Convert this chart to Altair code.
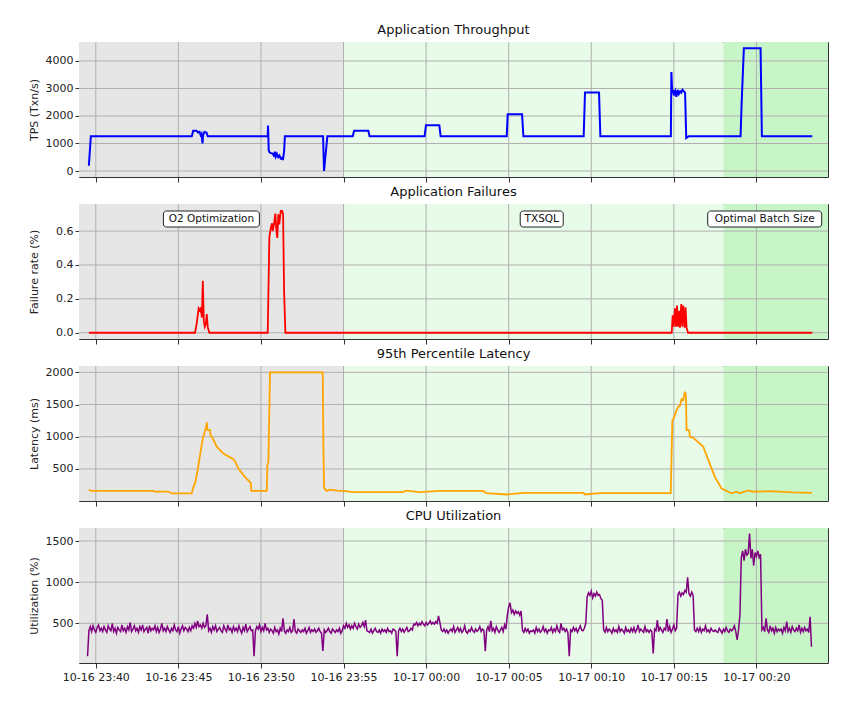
import altair as alt
import pandas as pd

# ---------------- data (minutes relative to 10-16 23:40) ----------------
tps_min = [-0.42, -0.30, 5.81, 5.90, 6.10, 6.20, 6.28, 6.35, 6.40, 6.46, 6.50, 6.58, 6.70, 6.78,
           10.41, 10.43, 10.47, 10.52, 10.60, 10.70, 10.78, 10.85, 10.90, 10.97, 11.05, 11.12, 11.20,
           11.28, 11.33, 11.40, 11.45, 13.76, 13.82, 14.02, 15.56, 15.64, 16.50, 16.58, 19.91, 19.99,
           20.80, 20.88, 24.88, 24.94, 25.81, 25.89, 29.54, 29.62, 30.47, 30.55, 34.82, 34.85, 34.90,
           34.95, 35.00, 35.08, 35.15, 35.22, 35.30, 35.38, 35.45, 35.52, 35.60, 35.68, 35.75, 35.82,
           35.90, 39.04, 39.10, 39.24, 40.25, 40.33, 43.38]
tps_val = [190, 1260, 1260, 1460, 1460, 1400, 1420, 1300, 1350, 1000, 1300, 1420, 1400, 1260,
           1260, 1650, 750, 680, 650, 640, 560, 700, 520, 620, 500, 560, 450,
           480, 400, 700, 1260, 1260, 0, 1260, 1260, 1460, 1460, 1260, 1260, 1660,
           1660, 1260, 1260, 2060, 2060, 1260, 1260, 2850, 2850, 1260, 1260, 3600, 2850,
           2950, 2750, 2900, 2700, 2950, 2800, 2900, 2850, 2950, 2900, 2850, 1200, 1230,
           1260, 1260, 2400, 4460, 4460, 1260, 1260]

fail_min = [-0.42, 6.01, 6.11, 6.23, 6.31, 6.37, 6.42, 6.48, 6.54, 6.60, 6.66, 6.72, 6.78, 6.88,
            10.41, 10.51, 10.59, 10.67, 10.71, 10.79, 10.87, 10.93, 10.99, 11.05, 11.11, 11.20,
            11.28, 11.34, 11.40, 11.48, 34.87, 34.93, 34.99, 35.07, 35.13, 35.19, 35.25, 35.31,
            35.37, 35.45, 35.51, 35.57, 35.65, 35.71, 35.77, 35.86, 43.38]
fail_val = [0, 0, 0.055, 0.144, 0.13, 0.15, 0.09, 0.307, 0.07, 0.035, 0.05, 0.11, 0.03, 0,
            0, 0.566, 0.616, 0.646, 0.60, 0.64, 0.704, 0.61, 0.56, 0.70, 0.64, 0.72,
            0.72, 0.70, 0.25, 0, 0, 0.103, 0.035, 0.144, 0.035, 0.16, 0.035, 0.13,
            0.03, 0.17, 0.035, 0.16, 0.03, 0.15, 0.03, 0, 0]

lat_min = [-0.42, -0.30, 3.50, 3.55, 4.40, 4.60, 5.81, 5.91, 6.01, 6.15, 6.31, 6.48, 6.60, 6.68,
           6.72, 6.76, 6.92, 6.96, 7.06, 7.32, 7.72, 8.33, 8.43, 8.63, 9.03, 9.38, 9.42, 10.35,
           10.39, 10.45, 10.55, 13.74, 13.78, 13.82, 13.98, 14.20, 14.60, 15.00, 15.60, 18.60,
           18.80, 19.63, 20.84, 23.45, 23.66, 24.88, 25.89, 29.52, 29.62, 30.52, 34.81, 34.91,
           35.01, 35.13, 35.27, 35.37, 35.47, 35.57, 35.67, 35.73, 35.77, 35.93, 35.97, 36.17,
           36.68, 36.78, 37.48, 37.89, 38.49, 38.79, 38.99, 39.29, 39.49, 39.80, 40.80, 42.21, 43.36]
lat_val = [180, 160, 160, 150, 150, 120, 120, 223, 275, 457, 715, 974, 1078, 1155,
           1223, 1103, 1103, 1010, 990, 845, 741, 653, 622, 508, 378, 285, 160, 160,
           560, 612, 2000, 2000, 870, 208, 160, 180, 165, 160, 140, 140,
           165, 140, 160, 160, 124, 104, 130, 130, 104, 124, 124, 1249,
           1300, 1389, 1467, 1480, 1585, 1570, 1700, 1647, 1103, 1103, 1000, 984,
           870, 845, 378, 197, 121, 147, 121, 147, 168, 147, 157, 137, 130]

# CPU sampled every 5 s from 23:39:30 (one row per minute)
cpu_start_min = -0.5
cpu_step_sec = 5
cpu_val = [
    100, 410, 460, 400, 470, 420, 390, 450, 480, 410, 440, 400,
    460, 420, 390, 470, 430, 410, 500, 400, 440, 380, 450, 420,
    400, 480, 410, 440, 390, 460, 420, 510, 400, 430, 470, 410,
    440, 390, 460, 420, 480, 400, 430, 450, 380, 470, 410, 440,
    420, 470, 400, 450, 390, 430, 500, 410, 440, 400, 460, 420,
    390, 440, 410, 480, 420, 400, 460, 380, 430, 470, 410, 450,
    430, 400, 450, 410, 470, 440, 500, 450, 530, 460, 480, 440,
    500, 450, 470, 610, 410, 440, 390, 460, 420, 470, 400, 430,
    450, 410, 390, 470, 430, 400, 480, 420, 440, 390, 460, 410,
    440, 400, 470, 420, 380, 450, 410, 490, 400, 430, 460, 410,
    420, 100, 410, 460, 430, 480, 400, 450, 410, 500, 420, 440,
    390, 430, 410, 380, 450, 400, 420, 370, 440, 400, 560, 410,
    380, 420, 400, 450, 390, 410, 550, 400, 380, 430, 410, 390,
    420, 400, 440, 380, 410, 450, 390, 420, 400, 430, 390, 410,
    440, 400, 380, 165, 420, 390, 410, 440, 400, 380, 430, 410,
    390, 420, 400, 440, 380, 410, 470, 440, 500, 450, 480, 430,
    470, 440, 500, 460, 430, 490, 450, 470, 510, 460, 540, 410,
    400, 390, 430, 380, 410, 440, 400, 390, 420, 380, 430, 400,
    420, 390, 440, 400, 410, 380, 430, 420, 400, 100, 410, 440,
    400, 430, 390, 420, 450, 400, 410, 440, 420, 490, 480, 510,
    470, 500, 480, 520, 490, 470, 510, 480, 500, 530, 490, 510,
    490, 520, 500, 590, 510, 420, 400, 430, 390, 420, 380, 410,
    430, 400, 460, 390, 420, 450, 400, 440, 390, 410, 470, 400,
    380, 420, 400, 450, 410, 390, 430, 400, 420, 460, 400, 430,
    410, 160, 420, 460, 400, 530, 410, 440, 390, 460, 420, 390,
    420, 450, 400, 480, 430, 600, 700, 750, 630, 660, 610, 650,
    620, 640, 600, 650, 420, 390, 440, 400, 430, 380, 410, 400,
    420, 380, 450, 400, 430, 390, 410, 460, 400, 430, 380, 420,
    410, 450, 390, 430, 400, 470, 410, 390, 500, 420, 440, 400,
    430, 390, 100, 420, 400, 450, 410, 440, 390, 430, 470, 420,
    410, 440, 500, 820, 870, 840, 890, 810, 860, 830, 880, 840,
    850, 800, 780, 420, 390, 450, 400, 430, 410, 380, 440, 400,
    420, 390, 460, 400, 430, 410, 380, 450, 400, 420, 390, 440,
    400, 450, 390, 420, 480, 400, 430, 410, 390, 460, 400, 420,
    390, 420, 400, 135, 430, 410, 540, 400, 450, 420, 390, 440,
    420, 550, 400, 460, 390, 430, 480, 410, 440, 850, 880, 830,
    870, 850, 900, 880, 1060, 860, 830, 880, 840, 420, 400, 440,
    400, 450, 390, 430, 410, 470, 400, 420, 390, 440, 410, 400,
    420, 400, 390, 440, 410, 380, 430, 400, 450, 410, 390, 430,
    410, 430, 470, 400, 300, 420, 600, 1300, 1380, 1260, 1400, 1330,
    1350, 1590, 1290, 1400, 1200, 1360, 1310, 1380, 1300, 1340, 420, 450,
    400, 560, 420, 390, 470, 410, 440, 380, 450, 400, 430, 410,
    430, 380, 450, 410, 520, 400, 440, 390, 460, 420, 400, 440,
    410, 480, 390, 440, 400, 450, 410, 430, 390, 580, 215,
]

tick_times = ["2023-10-16 23:40", "2023-10-16 23:45", "2023-10-16 23:50", "2023-10-16 23:55",
              "2023-10-17 00:00", "2023-10-17 00:05", "2023-10-17 00:10", "2023-10-17 00:15",
              "2023-10-17 00:20"]
x_domain = ["2023-10-16 23:38:59", "2023-10-17 00:24:20"]

phase_start = ["2023-10-16 23:38:59", "2023-10-16 23:55:00", "2023-10-17 00:18:00"]
phase_end = ["2023-10-16 23:55:00", "2023-10-17 00:18:00", "2023-10-17 00:24:20"]
phase_fill = ["#e6e6e6", "#e8fae8", "#c8f5c8"]

notes_text = ["O2 Optimization", "TXSQL", "Optimal Batch Size"]
notes_time = ["2023-10-16 23:47:00", "2023-10-17 00:07:00", "2023-10-17 00:20:30"]
notes_width = [96, 43, 114]

# ---------------- helpers ----------------
BASE = pd.Timestamp("2023-10-16 23:40:00")


def times_from_minutes(mins):
    return [BASE + pd.Timedelta(minutes=m) for m in mins]


def dt(s):
    t = pd.Timestamp(s)
    return alt.DateTime(year=t.year, month=t.month, date=t.day,
                        hours=t.hour, minutes=t.minute, seconds=t.second)


assert len(tps_min) == len(tps_val)
assert len(fail_min) == len(fail_val)
assert len(lat_min) == len(lat_val)

cpu_times = [BASE + pd.Timedelta(minutes=cpu_start_min) + pd.Timedelta(seconds=cpu_step_sec * i)
             for i in range(len(cpu_val))]

W, H = 749, 135
FONT = "DejaVu Sans"

xscale = alt.Scale(domain=[dt(x_domain[0]), dt(x_domain[1])])
tick_vals = [dt(s) for s in tick_times]

shade_df = pd.DataFrame({"start": pd.to_datetime(phase_start), "end": pd.to_datetime(phase_end),
                         "fill": phase_fill})
xgrid_df = pd.DataFrame({"t": pd.to_datetime(tick_times)})


def panel(title, times, values, color, yticks, ydomain, ytitle, yfmt, bottom=False, notes=False, sw=1.8):
    if bottom:
        xaxis = alt.Axis(values=tick_vals, format="%m-%d %H:%M", title=None, labelFontSize=11,
                         labelPadding=3, tickSize=5, grid=False, labelOverlap=False)
    else:
        xaxis = alt.Axis(values=tick_vals, labels=False, title=None, tickSize=5, grid=False)
    X = alt.X("t:T", scale=xscale, axis=xaxis)
    Y = alt.Y("v:Q", scale=alt.Scale(domain=ydomain, nice=False, zero=False),
              axis=alt.Axis(values=yticks, format=yfmt, title=ytitle, minExtent=36, maxExtent=36,
                            titlePadding=4, grid=False, tickSize=4))

    shade = alt.Chart(shade_df).mark_rect().encode(
        x=alt.X("start:T", scale=xscale, axis=xaxis),
        x2="end:T",
        fill=alt.Fill("fill:N", scale=None),
    )
    xg = alt.Chart(xgrid_df).mark_rule(color="#b0b0b0", strokeWidth=1).encode(x=X)
    yg = alt.Chart(pd.DataFrame({"v": yticks})).mark_rule(color="#b0b0b0", strokeWidth=1).encode(y=Y)
    df = pd.DataFrame({"t": times, "v": values})
    line = alt.Chart(df).mark_line(color=color, strokeWidth=sw, clip=True).encode(x=X, y=Y)
    layers = [shade, xg, yg, line]
    if notes:
        for txt, tm, w in zip(notes_text, notes_time, notes_width):
            ndf = pd.DataFrame({"t": [pd.Timestamp(tm)], "label": [txt]})
            box = alt.Chart(ndf).mark_rect(width=w, height=16, cornerRadius=3, fill="white",
                                           stroke="#222", strokeWidth=1).encode(
                x=alt.X("t:T", scale=xscale, axis=xaxis), y=alt.value(15))
            lab = alt.Chart(ndf).mark_text(font=FONT, fontSize=10.5, color="#111",
                                           baseline="middle", align="center").encode(
                x=alt.X("t:T", scale=xscale, axis=xaxis), y=alt.value(15), text="label:N")
            layers += [box, lab]
    return alt.layer(*layers).properties(
        width=W, height=H,
        title=alt.TitleParams(title, fontSize=13, fontWeight="normal", font=FONT, color="#111",
                              anchor="middle", offset=5),
    )


p1 = panel("Application Throughput", times_from_minutes(tps_min), tps_val, "#0000ff",
           [0, 1000, 2000, 3000, 4000], [-218, 4690], "TPS (Txn/s)", "d", sw=2)
p2 = panel("Application Failures", times_from_minutes(fail_min), fail_val, "#ff0000",
           [0.0, 0.2, 0.4, 0.6], [-0.037, 0.76], "Failure rate (%)", ".1f", notes=True)
p3 = panel("95th Percentile Latency", times_from_minutes(lat_min), lat_val, "#ffa500",
           [500, 1000, 1500, 2000], [3, 2098], "Latency (ms)", "d")
p4 = panel("CPU Utilization", cpu_times, cpu_val, "#800080",
           [500, 1000, 1500], [18, 1658], "Utilization (%)", "d", bottom=True, sw=1.5)

chart = alt.vconcat(p1, p2, p3, p4, spacing=2).properties(
    padding={"left": 19, "top": 15, "right": 5, "bottom": 5}
).configure_view(stroke="#333", strokeWidth=1).configure_axis(
    labelFont=FONT, titleFont=FONT, labelFontSize=11, titleFontSize=11, titleFontWeight="normal",
    labelColor="#222", titleColor="#222", tickColor="#333", domain=False,
)

chart.save("out.html", embed_options={"renderer": "svg", "actions": False})
